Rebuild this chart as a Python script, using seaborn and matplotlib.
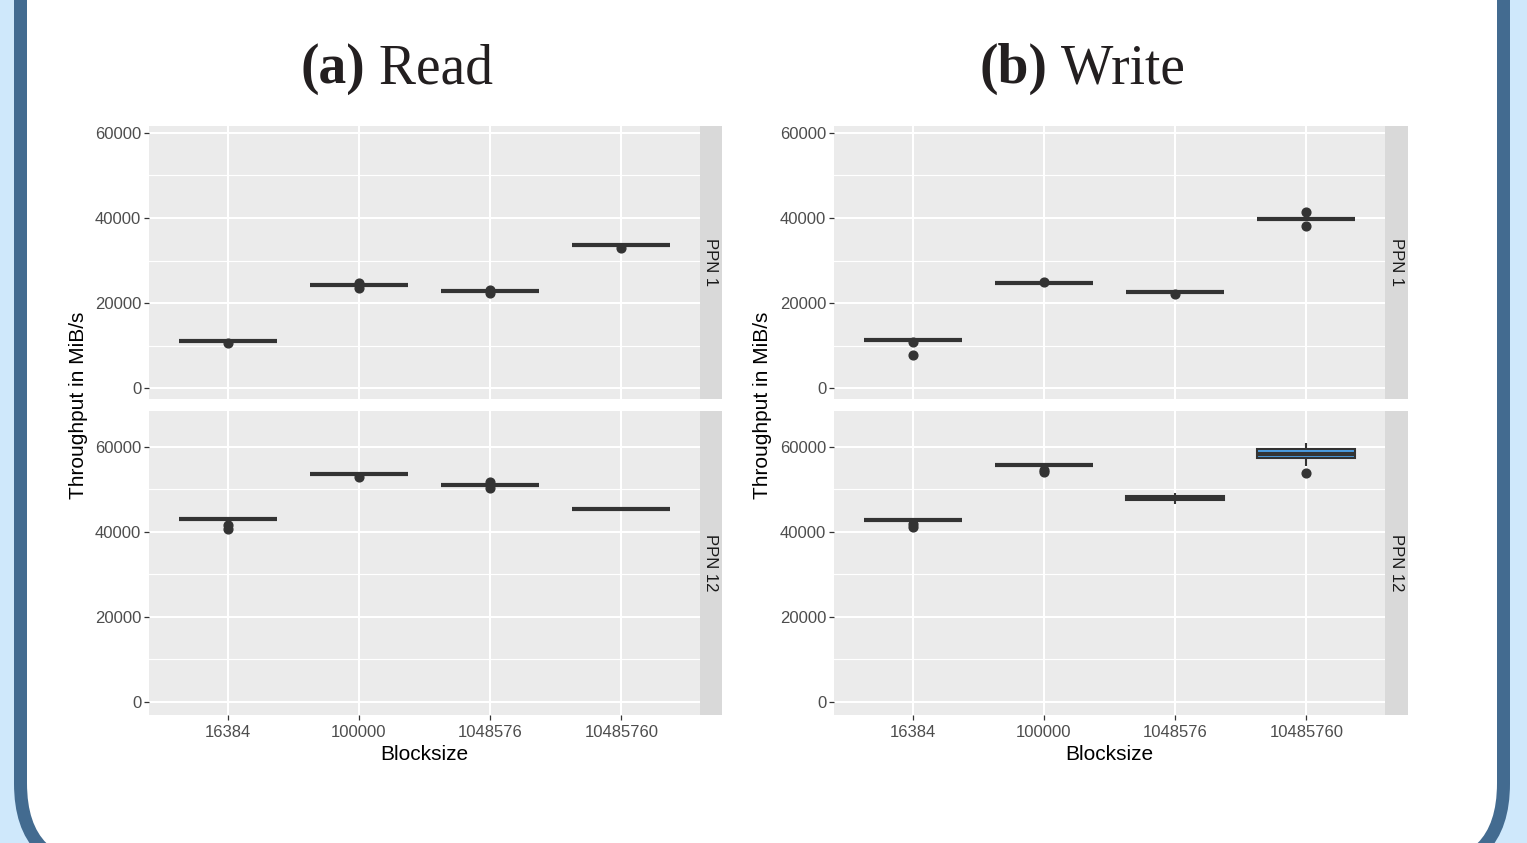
import numpy as np
import pandas as pd
import matplotlib
matplotlib.use("Agg")
import matplotlib.pyplot as plt
import seaborn as sns
from matplotlib.patches import FancyBboxPatch
from matplotlib.ticker import FixedLocator

# ---------------- data ----------------
blocksizes = ["16384", "100000", "1048576", "10485760"]
ppn_levels = ["PPN 1", "PPN 12"]

read_ppn1 = [
    [11100] * 9 + [10550],
    [24250] * 8 + [24650, 23600],
    [22750] * 8 + [23050, 22450],
    [33600] * 9 + [32850],
]
read_ppn12 = [
    [43000] * 8 + [41600, 40700],
    [53650] * 9 + [53050],
    [51050] * 8 + [51700, 50400],
    [45500] * 10,
]
write_ppn1 = [
    [11200] * 8 + [10800, 7800],
    [24600] * 9 + [24950],
    [22550] * 9 + [22150],
    [39650] * 8 + [41350, 38050],
]
write_ppn12 = [
    [42900] * 8 + [41900, 41100],
    [55700] * 8 + [54700, 54100],
    [46500, 47300, 47600, 47800, 48000, 48200, 48400, 48700, 49200],
    [53950, 55600, 57300, 57400, 58200, 58600, 58900, 59600, 59800, 60870],
]

panel_titles = [("(a)", " Read"), ("(b)", " Write")]
x_label = "Blocksize"
y_label = "Throughput in MiB/s"


def to_frame(groups):
    rows = []
    for bs, vals in zip(blocksizes, groups):
        for v in vals:
            rows.append({"Blocksize": bs, "Throughput": v})
    return pd.DataFrame(rows)


# ---------------- layout helpers ----------------
W, H = 1527, 843
fig = plt.figure(figsize=(W / 100, H / 100), dpi=100)
fig.patch.set_facecolor("#cfe8fb")


def fx(px):
    return px / W


def fy(py):
    return 1 - py / H


def rect(x0, y0, x1, y1):
    return [fx(x0), fy(y1), (x1 - x0) / W, (y1 - y0) / H]


# background frame
bg = fig.add_axes([0, 0, 1, 1], zorder=-10)
bg.set_xlim(0, W)
bg.set_ylim(H, 0)
bg.axis("off")
bg.add_patch(FancyBboxPatch((20.5, -300), 1503.5 - 20.5, 869.5 + 300,
                            boxstyle="round,pad=0,rounding_size=86",
                            facecolor="white", edgecolor="#436b90",
                            linewidth=13 * 72 / 100))

PANEL_BG = "#EBEBEB"
STRIP_BG = "#D9D9D9"
LINE = "#333333"
FILL = "#4b9fe6"

sans = ["Liberation Sans", "DejaVu Sans"]
serif = ["Liberation Serif", "DejaVu Serif"]

# per-row vertical layout (pixels) and y limits
rows_px = [(126, 399), (411, 715)]
ylims = [(-2588, 61647), (-3059, 68470)]

panels = [
    (149, 700, 722, [read_ppn1, read_ppn12], 397),
    (834, 1385, 1408, [write_ppn1, write_ppn12], 1082),
]

for pi, (x0, x1, xs, groups_list, title_cx) in enumerate(panels):
    for ri, ((y0, y1), groups, ylim) in enumerate(zip(rows_px, groups_list, ylims)):
        ax = fig.add_axes(rect(x0, y0, x1, y1))
        df = to_frame(groups)
        sns.boxplot(data=df, x="Blocksize", y="Throughput", order=blocksizes,
                    ax=ax, width=0.75, color=FILL, saturation=1,
                    linecolor=LINE, linewidth=1.5, fliersize=6.3,
                    showcaps=False,
                    medianprops=dict(linewidth=3.0),
                    flierprops=dict(marker="o", markerfacecolor=LINE,
                                    markeredgecolor=LINE))
        ax.set_facecolor(PANEL_BG)
        for s in ax.spines.values():
            s.set_visible(False)
        ax.set_xlim(-0.6, 3.6)
        ax.set_ylim(*ylim)
        ax.yaxis.set_major_locator(FixedLocator([0, 20000, 40000, 60000]))
        ax.yaxis.set_minor_locator(FixedLocator([10000, 30000, 50000]))
        ax.set_axisbelow(True)
        ax.grid(True, which="major", axis="both", color="white", linewidth=1.5)
        ax.grid(True, which="minor", axis="y", color="white", linewidth=0.8)
        ax.tick_params(axis="y", which="major", length=3.6, width=0.9,
                       color=LINE, labelsize=12, labelcolor="#4D4D4D", pad=2)
        ax.tick_params(axis="y", which="minor", length=0)
        for lab in ax.get_yticklabels():
            lab.set_family(sans)
        ax.set_ylabel("")
        ax.set_xlabel("")
        if ri == 0:
            ax.tick_params(axis="x", which="both", length=0, labelbottom=False)
        else:
            ax.tick_params(axis="x", length=3.6, width=0.9, color=LINE,
                           labelsize=12, labelcolor="#4D4D4D", pad=3.5)
            for lab in ax.get_xticklabels():
                lab.set_family(sans)

        # strip
        sax = fig.add_axes(rect(x1, y0, xs, y1))
        sax.set_facecolor(STRIP_BG)
        sax.set_xticks([])
        sax.set_yticks([])
        for s in sax.spines.values():
            s.set_visible(False)
        sax.text(0.5, 0.5, ppn_levels[ri], rotation=-90, ha="center",
                 va="center", fontsize=12, color="#1A1A1A", family=sans,
                 transform=sax.transAxes)

    # axis titles
    fig.text(fx((x0 + x1) / 2), fy(754), x_label, ha="center", va="center",
             fontsize=15, color="black", family=sans)
    fig.text(fx(x0 - 71), fy(405), y_label, ha="center", va="center",
             rotation=90, fontsize=15, color="black", family=sans)

# titles with bold label part
fig.canvas.draw()
renderer = fig.canvas.get_renderer()
for (bold, reg), (_, _, _, _, cx) in zip(panel_titles, panels):
    tb = fig.text(0, fy(83), bold, fontsize=40, fontweight="bold",
                  family=serif, color="#231f20", va="baseline", ha="left")
    tr = fig.text(0, fy(83), reg, fontsize=40, family=serif,
                  color="#231f20", va="baseline", ha="left")
    wb = tb.get_window_extent(renderer).width
    wr = tr.get_window_extent(renderer).width
    left = cx - (wb + wr) / 2
    tb.set_x(fx(left))
    tr.set_x(fx(left + wb))

fig.savefig("out.png", dpi=100, facecolor=fig.get_facecolor())
